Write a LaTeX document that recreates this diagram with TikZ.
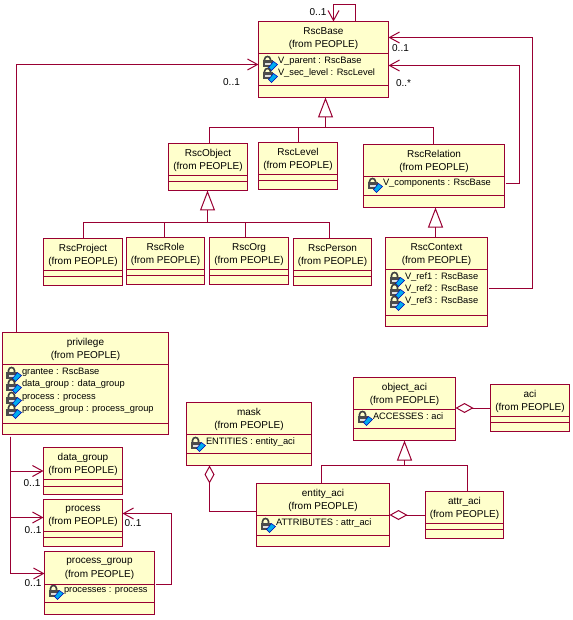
\documentclass[tikz,border=0pt]{standalone}
\usepackage{fontspec}
\setmainfont{Liberation Sans}
\usepackage{xcolor}
\usetikzlibrary{arrows.meta,positioning,calc}

\definecolor{umlline}{HTML}{990033}
\definecolor{umlfill}{HTML}{FFFFCC}

% id, position, width, height, first and second divider (from the top), name
\newcommand{\umlclass}[7]{%
    \node[classbox, anchor=north west, #2, minimum width=#3pt, minimum height=#4pt] (#1) {};
    \draw[divider] ($(#1.north west)+(0,#5)$) -- ($(#1.north east)+(0,#5)$);
    \draw[divider] ($(#1.north west)+(0,#6)$) -- ($(#1.north east)+(0,#6)$);
    \node[classtitle] (#1-title) at ($(#1.north)+(0,#5/2+1)$) {#7\\(from PEOPLE)};
}
% id, distance from the top of the class, text
\newcommand{\umlattr}[3]{%
    \pic at ($(#1.north west)+(11,#2)$) {lockkey};
    \node[attrtext] at ($(#1.north west)+(19,#2)$) {#3};
}

\begin{document}
\begin{tikzpicture}[
        x=1pt, y=-1pt,
        font=\fontsize{10}{13.5}\selectfont,
        line width=1pt,
        classbox/.style  ={draw=umlline, fill=umlfill, outer sep=0pt, inner sep=0pt},
        divider/.style   ={umlline},
        classtitle/.style={align=center, inner sep=0pt},
        attrtext/.style  ={anchor=west, inner sep=0pt, font=\fontsize{9.3}{12}\selectfont},
        mult/.style      ={inner sep=0pt},
        assoc/.style     ={umlline, -{Straight Barb[length=10pt, width=11pt]}},
        tree/.style      ={umlline},
        gener/.style     ={umlline, -{Triangle[open, length=20pt, width=15pt]}},
        aggr/.style      ={umlline, {Diamond[open, length=18pt, width=10pt]}-},
        lockkey/.pic={
            \draw[gray!50!black, line width=1.6pt] (-5,0) -- (-5,-2) .. controls (-5,-6) and (1,-6) .. (1,-2) -- (1,0);
            \fill[gray!60!black] (-7,-1) rectangle (3,6);
            \fill[gray!25] (-5,2) rectangle (1,4);
            \filldraw[fill=cyan, draw=blue!70!black, line width=.5pt] (-1,6) -- (4,0) -- (8,3) -- (2,9) -- cycle;
        },
    ]
    \useasboundingbox (-0.5,-0.5) rectangle (571.5,619.5);

    % --- Rsc hierarchy ---
    \umlclass{rscbase}{at={(258,21)}}{130}{76}{32}{64}{RscBase}
    \umlattr{rscbase}{40}{V\_parent : RscBase}
    \umlattr{rscbase}{52}{V\_sec\_level : RscLevel}
    \umlclass{rscobject}{at={(168,143)}}{79}{47}{32}{38}{RscObject}
    \umlclass{rsclevel}{right=11pt of rscobject, yshift=1pt}{79}{47}{32}{38}{RscLevel}
    \umlclass{rscrelation}{at={(363,144)}}{141}{63}{32}{51}{RscRelation}
    \umlattr{rscrelation}{39}{V\_components : RscBase}
    \umlclass{rsccontext}{at={(385,237)}}{102}{89}{32}{78}{RscContext}
    \umlattr{rsccontext}{40}{V\_ref1 : RscBase}
    \umlattr{rsccontext}{52}{V\_ref2 : RscBase}
    \umlattr{rsccontext}{64}{V\_ref3 : RscBase}
    \umlclass{rscproject}{at={(43,238)}}{79}{47}{32}{38}{RscProject}
    \umlclass{rscrole}{right=4pt of rscproject, yshift=1pt}{78}{47}{32}{38}{RscRole}
    \umlclass{rscorg}{right=5pt of rscrole}{79}{47}{32}{38}{RscOrg}
    \umlclass{rscperson}{right=5pt of rscorg, yshift=-1pt}{78}{47}{32}{38}{RscPerson}

    % --- privilege ---
    \umlclass{privilege}{at={(2,332)}}{166}{102}{32}{91}{privilege}
    \umlattr{privilege}{40}{grantee : RscBase}
    \umlattr{privilege}{52}{data\_group : data\_group}
    \umlattr{privilege}{65}{process : process}
    \umlattr{privilege}{77}{process\_group : process\_group}
    \umlclass{datagroup}{at={(43,447)}}{79}{47}{32}{39}{data\_group}
    \umlclass{process}{below=5pt of datagroup}{79}{47}{32}{38}{process}
    \umlclass{processgroup}{at={(44,551)}}{110}{63}{33}{51}{process\_group}
    \umlattr{processgroup}{39}{processes : process}

    % --- aci ---
    \umlclass{mask}{at={(186,402)}}{125}{63}{32}{51}{mask}
    \umlattr{mask}{40}{ENTITIES : entity\_aci}
    \umlclass{objectaci}{at={(353,377)}}{102}{63}{32}{51}{object\_aci}
    \umlattr{objectaci}{39}{ACCESSES : aci}
    \umlclass{aci}{at={(490,384)}}{79}{47}{32}{38}{aci}
    \umlclass{entityaci}{at={(256,483)}}{133}{63}{32}{52}{entity\_aci}
    \umlattr{entityaci}{40}{ATTRIBUTES : attr\_aci}
    \umlclass{attraci}{at={(425,491)}}{78}{47}{32}{38}{attr\_aci}

    % --- Free ends ---
    \coordinate (basebar) at (325,127);
    \coordinate (objectbar) at (207,222);
    \coordinate (acibar) at (404,465);
    \coordinate (trunk) at (10,436);
    \coordinate (relationout) at (505,183);
    \coordinate (contextout) at (488,288);
    \coordinate (groupout) at (155,584);

    % --- Generalization ---
    \draw[gener] (basebar) -- (basebar |- rscbase.south);
    \draw[tree] (basebar) -| ([xshift=1.5pt]rscobject.north);
    \draw[tree] (basebar -| rsclevel.north) -- (rsclevel.north);
    \draw[tree] (basebar) -| ([xshift=-1pt]rscrelation.north);
    \draw[gener] ([xshift=1.5pt]rsccontext.north -| rscrelation.south) -- ([xshift=1.5pt]rscrelation.south);
    \draw[gener] (objectbar) -- (objectbar |- rscobject.south);
    \draw[tree] (objectbar) -| (rscproject.north);
    \draw[tree] (objectbar) -| ([xshift=-1pt]rscrole.north);
    \draw[tree] (objectbar) -| ([xshift=-3.5pt]rscorg.north);
    \draw[tree] (objectbar) -| ([xshift=-3pt]rscperson.north);
    \draw[gener] (acibar) -- (objectaci.south);
    \draw[tree] (acibar) -| ([xshift=-1.5pt]entityaci.north);
    \draw[tree] (acibar) -| ([xshift=3pt]attraci.north);

    % --- Associations ---
    \draw[assoc] ([xshift=32pt]rscbase.north) -- ++(0,-17) -- ++(-22,0) -- ([xshift=10pt]rscbase.north);
    \draw[assoc] ([xshift=-69pt]privilege.north) |- (rscbase.west |- 0,64);
    \draw[assoc] (relationout) -- ++(14,0) |- (rscbase.east |- 0,65);
    \draw[assoc] (contextout) -- ++(44,0) |- (rscbase.east |- 0,37);
    \draw[assoc] (trunk) |- (datagroup.west);
    \draw[assoc] (trunk) |- (process.west |- 0,517);
    \draw[assoc] (trunk) |- (processgroup.west |- 0,573);
    \draw[assoc] (groupout) -- ++(16,0) |- (process.east |- 0,513);

    % --- Aggregations ---
    \draw[aggr] ([xshift=-39.5pt]mask.south) |- (entityaci.west |- 0,511);
    \draw[aggr] (objectaci.east |- aci.west) -- (aci.west);
    \draw[aggr] (entityaci.east |- attraci.west) -- ([xshift=-1pt]attraci.west);

    % --- Multiplicities ---
    \node[mult] (m-self) at (317.5,12) {0..1};
    \node[mult] (m-priv) at (231,82) {0..1};
    \node[mult] (m-context) at (400,48) {0..1};
    \node[mult] (m-relation) at (403,83) {0..*};
    \node[mult] (m-datagroup) at (31.5,483) {0..1};
    \node[mult] (m-process) at (32.5,530) {0..1};
    \node[mult] (m-processgroup) at (32.5,583) {0..1};
    \node[mult] (m-groupself) at (132.5,523) {0..1};
\end{tikzpicture}
\end{document}
